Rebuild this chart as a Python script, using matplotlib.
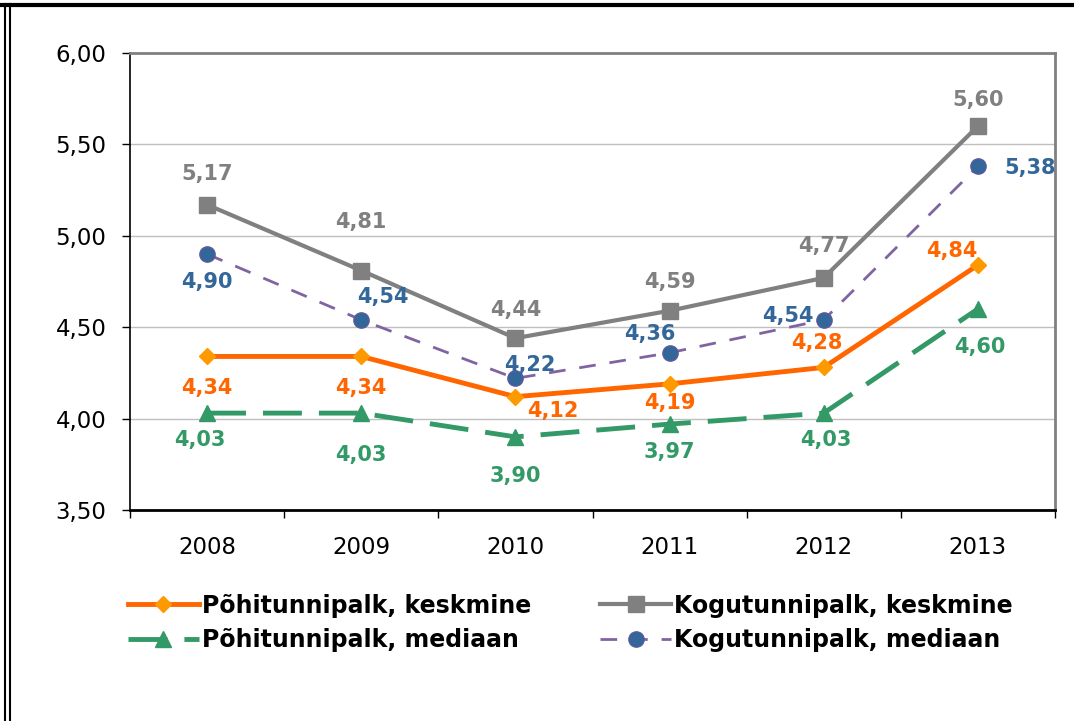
import matplotlib
matplotlib.use("Agg")
import matplotlib.pyplot as plt
from matplotlib.lines import Line2D
import numpy as np

plt.rcParams['font.family'] = ['DejaVu Sans']

years = ["2008", "2009", "2010", "2011", "2012", "2013"]
pohi_keskmine = [4.34, 4.34, 4.12, 4.19, 4.28, 4.84]
kogu_keskmine = [5.17, 4.81, 4.44, 4.59, 4.77, 5.60]
pohi_mediaan = [4.03, 4.03, 3.90, 3.97, 4.03, 4.60]
kogu_mediaan = [4.90, 4.54, 4.22, 4.36, 4.54, 5.38]

# label offsets in pixels (dx, dy), y up
off_pk = [(0, -32), (0, -32), (37, -14), (0, -19), (-7, 24), (-26, 14)]
off_kk = [(0, 31), (0, 49), (0, 28), (0, 29), (0, 32), (0, 26)]
off_pm = [(-7, -27), (0, -42), (0, -39), (0, -28), (2, -27), (2, -38)]
off_km = [(0, -28), (22, 23), (14, 13), (-20, 19), (-36, 4), (52, -2)]

fig = plt.figure(figsize=(10.74, 7.21), dpi=100)
ax = fig.add_axes([130/1074, 1-510/721, (1055-130)/1074, (510-53)/721])

x = np.arange(len(years))

series = [
    (pohi_keskmine, off_pk, dict(color='#FF6600', lw=3.5, marker='D', ms=8,
                                 mfc='#FF9900', mec='#FF9900'), '#FF6600', "Põhitunnipalk, keskmine"),
    (pohi_mediaan, off_pm, dict(color='#339966', lw=3.5, ls=(0, (8, 3.5)), marker='^', ms=12,
                                mfc='#339966', mec='#339966'), '#339966', "Põhitunnipalk, mediaan"),
    (kogu_keskmine, off_kk, dict(color='#808080', lw=3, marker='s', ms=11,
                                 mfc='#808080', mec='#808080'), '#808080', "Kogutunnipalk, keskmine"),
    (kogu_mediaan, off_km, dict(color='#8064A2', lw=2, ls=(0, (6, 5)), marker='o', ms=11,
                                mfc='#336699', mec='#5A5A9A'), '#336699', "Kogutunnipalk, mediaan"),
]

handles = []
for vals, offs, style, lc, name in series:
    h, = ax.plot(x, vals, label=name, zorder=3, **style)
    handles.append(h)
    for xi, v, (dx, dy) in zip(x, vals, offs):
        ax.annotate(f"{v:.2f}".replace(".", ","), (xi, v), xytext=(dx, dy),
                    textcoords='offset pixels', ha='center', va='center',
                    fontsize=15, fontweight='bold', color=lc, zorder=4)

ax.set_xlim(-0.5, 5.5)
ax.set_ylim(3.5, 6.0)
ax.set_yticks(np.arange(3.5, 6.01, 0.5))
ax.set_yticklabels([f"{t:.2f}".replace(".", ",") for t in np.arange(3.5, 6.01, 0.5)])
ax.set_xticks(x)
ax.set_xticklabels(years)
ax.set_xticks(np.arange(-0.5, 5.6, 1), minor=True)
ax.tick_params(axis='x', which='major', length=0, pad=19, labelsize=16.5)
ax.tick_params(axis='x', which='minor', length=6, width=1, direction='out')
ax.tick_params(axis='y', length=6, width=1, pad=11, labelsize=16.5)

ax.yaxis.grid(True, color='#BFBFBF', lw=1)
ax.set_axisbelow(True)
for s in ['top', 'right']:
    ax.spines[s].set_color('#808080')
    ax.spines[s].set_linewidth(2)
ax.spines['left'].set_linewidth(1.2)
ax.spines['bottom'].set_linewidth(2)

fig.legend(handles=handles, ncol=2, loc='center left',
           bbox_to_anchor=(128/1074, 1-623/721), frameon=False,
           prop={'size': 17, 'weight': 'bold'}, handlelength=3.0,
           handletextpad=0.15, columnspacing=2.9, labelspacing=0.45,
           borderpad=0, borderaxespad=0)

# outer frame lines
fig.add_artist(Line2D([0, 1], [1-4.5/721, 1-4.5/721], color='black', lw=3, transform=fig.transFigure))
fig.add_artist(Line2D([5/1074, 5/1074], [0, 1-4/721], color='black', lw=1.5, transform=fig.transFigure))
fig.add_artist(Line2D([9.5/1074, 9.5/1074], [0, 1-4/721], color='black', lw=1.5, transform=fig.transFigure))

fig.savefig("out.png", dpi=100)
